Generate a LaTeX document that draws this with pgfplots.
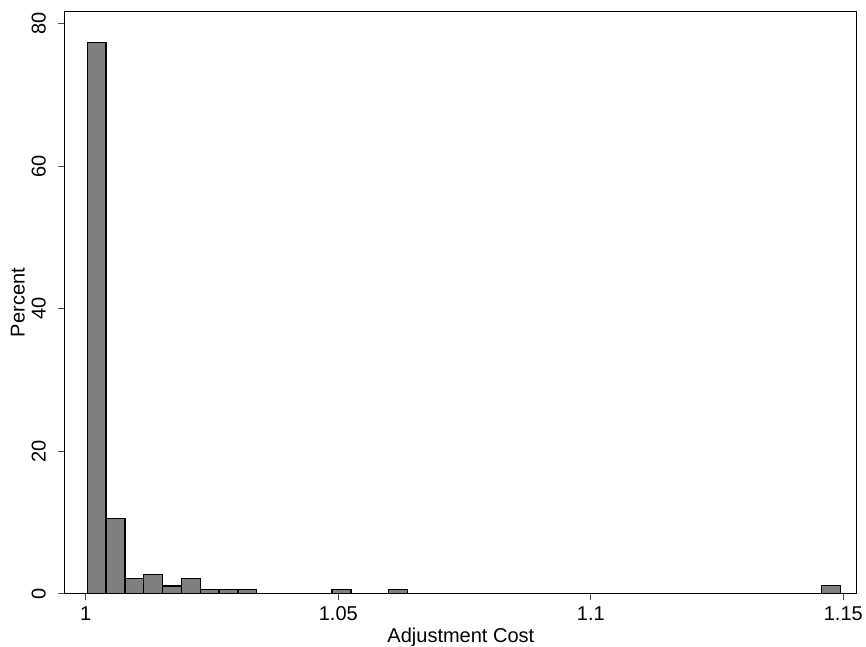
\documentclass[border=0pt]{standalone}
\usepackage{pgfplots}
\pgfplotsset{compat=1.18}
\usepackage{fontspec}
\setmainfont{Liberation Sans}
\definecolor{barfill}{HTML}{7F7F7F}
\pgfplotsset{histbar/.style={ybar interval, fill=barfill, draw=black, line width=1.4bp, mark=none}}
\begin{document}
\begin{tikzpicture}
\begin{axis}[
  scale only axis,
  width=791.7bp, height=581.8bp,
  xmin=0.99588, xmax=1.15265,
  ymin=0, ymax=81.7,
  axis line style={line width=1bp, black},
  xtick={1,1.05,1.1,1.15},
  xticklabels={1,1.05,1.1,1.15},
  ytick={0,20,40,60,80},
  yticklabels={0,20,40,60,80},
  xtick pos=bottom, ytick pos=left,
  tick align=outside,
  major tick length=7bp,
  tick style={line width=0.8bp, black!70},
  /pgf/number format/assume math mode=true,
  tick label style={font=\fontsize{20bp}{24bp}\selectfont},
  label style={font=\fontsize{20bp}{24bp}\selectfont},
  xticklabel style={anchor=north, inner sep=0pt},
  yticklabel style={rotate=90, anchor=south, inner sep=0pt},
  xticklabel shift=6bp,
  yticklabel shift=12bp,
  xlabel={Adjustment Cost},
  ylabel={Percent},
  xlabel style={at={(axis description cs:0.5,0)}, anchor=north, inner sep=0pt, yshift=-34.5bp},
  ylabel style={at={(axis description cs:-0.0505,0.5)}, anchor=south, inner sep=0pt},
  clip=false,
]
\addplot[histbar] table {
x y
1.00030 77.4
1.00403 10.5
1.00776 2.1
1.01148 2.7
1.01521 1.05
1.01894 2.1
1.02267 0.53
1.02640 0.53
1.03012 0.53
1.03385 0
};
\addplot[histbar] table {
x y
1.04876 0.53
1.05249 0
};
\addplot[histbar] table {
x y
1.05995 0.53
1.06368 0
};
\addplot[histbar] table {
x y
1.14569 1.1
1.14942 0
};
\path (rel axis cs:0,0) ++(-65bp,-52.5bp) rectangle ++(866bp,646bp);
\end{axis}
\end{tikzpicture}
\end{document}
